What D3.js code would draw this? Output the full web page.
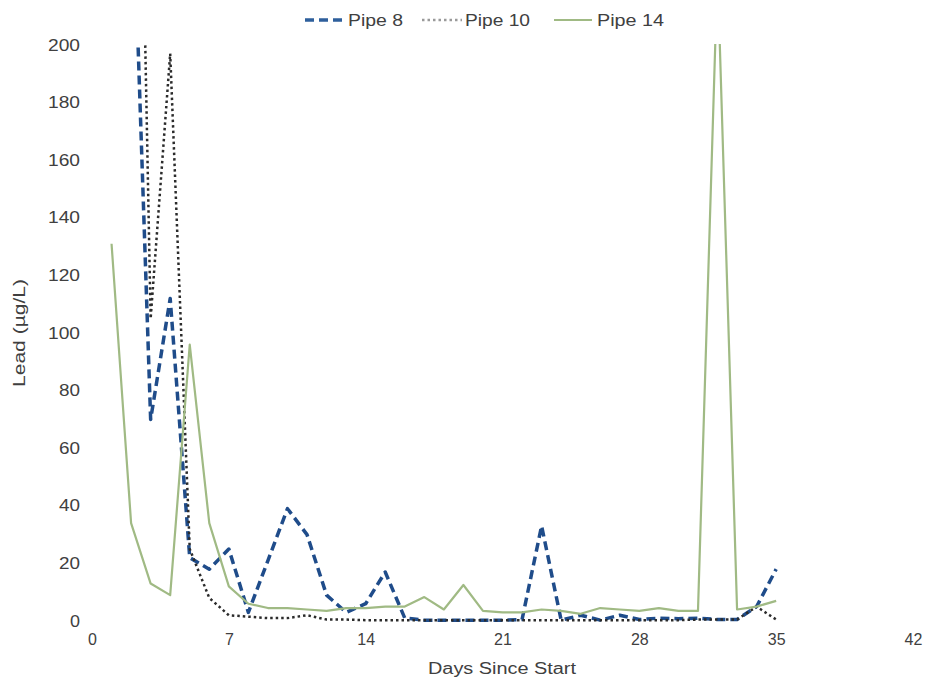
<!DOCTYPE html>
<html><head><meta charset="utf-8">
<script src="https://cdn.jsdelivr.net/npm/d3@7"></script>
<style>
body{margin:0;background:#fff;}
text{font-family:"Liberation Sans",Arial,sans-serif;fill:#404040;}
</style>
</head><body>
<svg id="c" width="926" height="684"></svg>
<script>
const xTicks = [0, 7, 14, 21, 28, 35, 42];
const yTicks = [0, 20, 40, 60, 80, 100, 120, 140, 160, 180, 200];
const seriesNames = ["Pipe 8", "Pipe 10", "Pipe 14"];

const pipe8Days = [2,3,4,5,6,7,8,9,10,11,12,13,14,15,16,17,18,19,20,21,22,23,24,25,26,27,28,29,30,31,32,33,34,35];
const pipe8 = [272,70,112,22,18,25,3,21,39,30,9,3,6,17,1,0.3,0.3,0.3,0.3,0.3,0.5,33,0.3,2,0.3,2,0.5,1,0.8,1,0.5,0.5,5,18];

const pipe10Days = [2,3,4,5,6,7,8,9,10,11,12,13,14,15,16,17,18,19,20,21,22,23,24,25,26,27,28,29,30,31,32,33,34,35];
const pipe10 = [450,105,197,25,8,2,1.5,1,1,2,0.5,0.5,0.3,0.3,0.3,0.3,0.3,0.3,0.3,0.3,0.3,0.3,0.3,0.3,0.3,0.3,0.3,0.3,0.3,0.5,0.5,0.5,5,0.5];

const pipe14Days = [1,2,3,4,5,6,7,8,9,10,11,12,13,14,15,16,17,18,19,20,21,22,23,24,25,26,27,28,29,30,31,32,33,34,35];
const pipe14 = [131,34,13,9,96,34,12,6,4.5,4.5,4,3.5,4.5,4.5,5,5,8.3,4,12.5,3.5,3,3,4,3.5,2.5,4.5,4,3.5,4.5,3.5,3.5,226,4,5,7];

const svg = d3.select("#c");
const x = d3.scaleLinear().domain([0, 42]).range([92, 913]);
const y = d3.scaleLinear().domain([0, 200]).range([621, 45]);

const styles = [
  {name: seriesNames[0], days: pipe8Days, vals: pipe8, color: "#1f4c8a", width: 3.5, dash: "9,5", legColor: "#2e5f9c", legLen: 40},
  {name: seriesNames[1], days: pipe10Days, vals: pipe10, color: "#2b2b2b", width: 2.5, dash: "2.5,3", legColor: "#9a9a9a", legLen: 40},
  {name: seriesNames[2], days: pipe14Days, vals: pipe14, color: "#a0ba84", width: 2.2, dash: null, legColor: "#a0ba84", legLen: 38}
];

svg.append("defs").append("clipPath").attr("id", "clip")
  .append("rect").attr("x", 80).attr("y", 44).attr("width", 840).attr("height", 600);

const FONT = '"Liberation Sans",Arial,sans-serif';
// axes
const xAxis = svg.append("g").attr("transform", "translate(0,634)")
  .call(d3.axisBottom(x).tickValues(xTicks).tickSize(0).tickPadding(0));
xAxis.select(".domain").remove();
xAxis.selectAll("text").attr("font-size", 16).attr("fill", "#404040").style("font-family", FONT);

const yAxis = svg.append("g").attr("transform", "translate(80,0)")
  .call(d3.axisLeft(y).tickValues(yTicks).tickSize(0).tickPadding(0));
yAxis.select(".domain").remove();
yAxis.selectAll("text").attr("font-size", 16).attr("fill", "#404040").style("font-family", FONT)
  .attr("textLength", d => String(d).length * 11 - 1).attr("lengthAdjust", "spacingAndGlyphs");

svg.append("text").attr("x", 502).attr("y", 674).attr("text-anchor", "middle")
  .attr("font-size", 16).attr("textLength", 148).attr("lengthAdjust", "spacingAndGlyphs").text("Days Since Start");
svg.append("text").attr("transform", "translate(25,333) rotate(-90)").attr("text-anchor", "middle")
  .attr("font-size", 16).attr("textLength", 108).attr("lengthAdjust", "spacingAndGlyphs").text("Lead (µg/L)");

const line = d3.line().x(d => x(d[0])).y(d => y(d[1]));
const g = svg.append("g").attr("clip-path", "url(#clip)");
styles.forEach(s => {
  const pts = s.days.map((d, i) => [d, s.vals[i]]);
  g.append("path").datum(pts).attr("d", line)
    .attr("fill", "none").attr("stroke", s.color).attr("stroke-width", s.width)
    .attr("stroke-dasharray", s.dash).attr("stroke-linejoin", "round");
});

// legend
const legX = [305, 422, 554];
const legW = [55, 65, 67];
const leg = svg.append("g");
styles.forEach((s, i) => {
  leg.append("line").attr("x1", legX[i]).attr("x2", legX[i] + s.legLen).attr("y1", 20).attr("y2", 20)
    .attr("stroke", s.legColor).attr("stroke-width", s.width).attr("stroke-dasharray", s.dash);
  leg.append("text").attr("x", legX[i] + 43).attr("y", 26).attr("font-size", 16)
    .attr("textLength", legW[i]).attr("lengthAdjust", "spacingAndGlyphs").text(s.name);
});
</script>
</body></html>
